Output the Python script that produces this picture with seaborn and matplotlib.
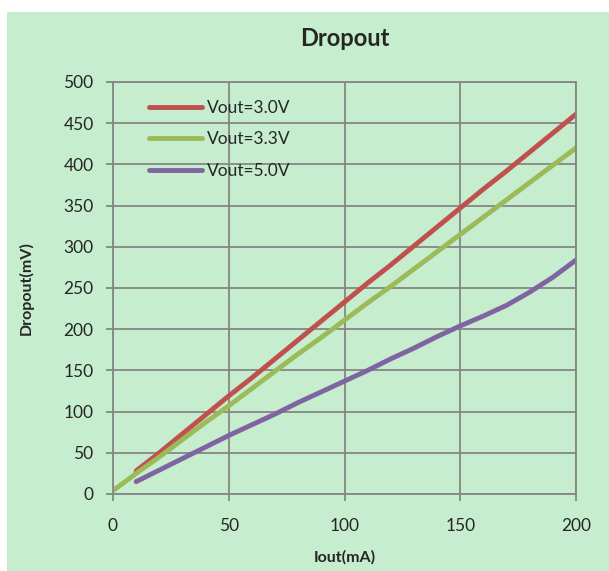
import pandas as pd
import matplotlib.pyplot as plt
import matplotlib.patches as mpatches
import seaborn as sns

# Dropout vs load current
iout_30 = [10, 20, 30, 40, 50, 60, 70, 80, 90, 100, 110, 120, 130, 140, 150, 160, 170, 180, 190, 200]
drop_30 = [28, 50, 73, 96, 119, 141, 164, 187, 210, 233, 256, 278, 301, 324, 347, 370, 392, 415, 438, 461]

iout_33 = [0, 10, 20, 30, 40, 50, 60, 70, 80, 90, 100, 110, 120, 130, 140, 150, 160, 170, 180, 190, 200]
drop_33 = [4, 25, 45, 66, 87, 107, 128, 149, 170, 190, 211, 232, 252, 273, 294, 315, 336, 357, 378, 399, 420]

iout_50 = [10, 20, 30, 40, 50, 60, 70, 80, 90, 100, 110, 120, 130, 140, 150, 160, 170, 180, 190, 200]
drop_50 = [15, 29, 43, 57, 71, 84, 97, 111, 124, 137, 150, 164, 177, 191, 204, 216, 229, 245, 263, 284]

series_names = ['Vout=3.0V', 'Vout=3.3V', 'Vout=5.0V']
colors = ['#C0504D', '#9BBB59', '#8064A2']

x_ticks = [0, 50, 100, 150, 200]
y_ticks = [0, 50, 100, 150, 200, 250, 300, 350, 400, 450, 500]

df = pd.concat([
    pd.DataFrame({'iout': iout_30, 'dropout': drop_30, 'series': series_names[0]}),
    pd.DataFrame({'iout': iout_33, 'dropout': drop_33, 'series': series_names[1]}),
    pd.DataFrame({'iout': iout_50, 'dropout': drop_50, 'series': series_names[2]}),
])

sns.set_style('white')
plt.rcParams['font.family'] = ['Lato', 'DejaVu Sans']

bg = '#C6EDCE'
grid_col = '#868686'

fig = plt.figure(figsize=(6.09, 5.71), dpi=100)
fig.patch.set_facecolor('white')
# green chart area with a thin white border on the left and top
fig.patches.append(mpatches.Rectangle((7 / 609, 0), 1, 1 - 12 / 571, transform=fig.transFigure,
                                      facecolor=bg, edgecolor='none', zorder=-5))

ax = fig.add_axes([113 / 609, 1 - 494 / 571, (576 - 113) / 609, (494 - 82) / 571])
ax.set_facecolor(bg)

sns.lineplot(data=df, x='iout', y='dropout', hue='series', palette=dict(zip(series_names, colors)),
             linewidth=3.5, ax=ax, solid_capstyle='round')

ax.set_xlim(0, 200)
ax.set_ylim(0, 500)
ax.set_xticks(x_ticks)
ax.set_yticks(y_ticks)
ax.grid(True, color=grid_col, linewidth=1.3)
ax.set_axisbelow(True)
for s in ax.spines.values():
    s.set_color(grid_col)
    s.set_linewidth(1.3)
ax.tick_params(axis='both', which='major', length=5, width=1.3, color=grid_col,
               labelsize=12.5, left=True, bottom=True)
ax.tick_params(axis='y', pad=9)
ax.tick_params(axis='x', pad=12)

ax.set_title('Dropout', fontsize=17, fontweight='bold', pad=26)
ax.set_xlabel('Iout(mA)', fontsize=11.5, fontweight='bold', labelpad=12)
ax.set_ylabel('Dropout(mV)', fontsize=11.5, fontweight='bold', labelpad=21)

leg = ax.legend(loc='upper left', bbox_to_anchor=(0.058, 0.978), frameon=False, fontsize=12.5,
                borderpad=0, handlelength=3.1, handletextpad=0.25, labelspacing=0.9)
for line in leg.get_lines():
    line.set_linewidth(3.5)
    line.set_solid_capstyle('round')

fig.savefig('out.png', dpi=100, facecolor=fig.get_facecolor())
